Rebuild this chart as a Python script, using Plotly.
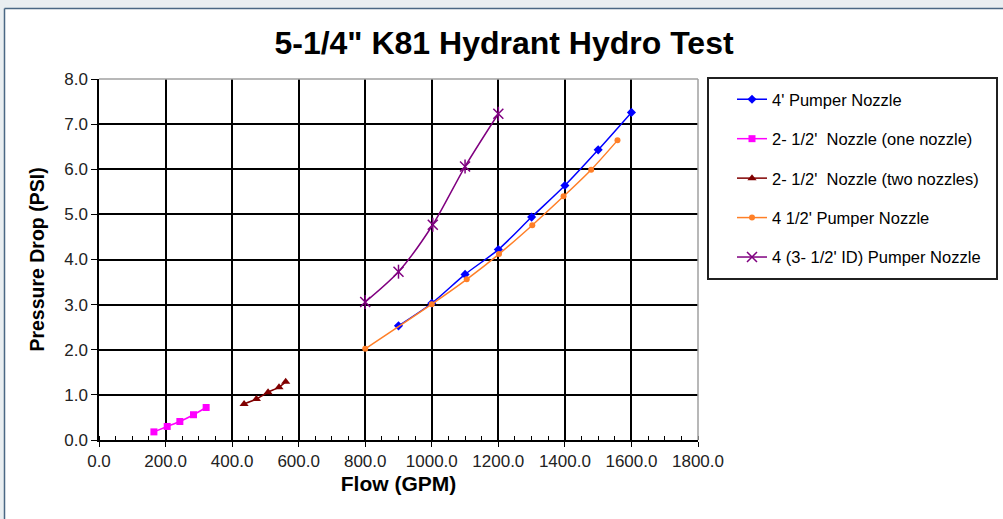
import plotly.graph_objects as go

# ---- data ----
pumper4_x = [900, 1000, 1100, 1200, 1300, 1400, 1500, 1600]
pumper4_y = [2.53, 3.03, 3.67, 4.22, 4.94, 5.64, 6.43, 7.26]

one_nozzle_x = [165, 205, 243, 284, 322]
one_nozzle_y = [0.18, 0.30, 0.41, 0.56, 0.72]

two_nozzle_x = [436, 473, 508, 541, 561]
two_nozzle_y = [0.80, 0.91, 1.06, 1.17, 1.29]

pumper45_x = [800, 1000, 1105, 1202, 1302, 1396, 1479, 1558]
pumper45_y = [2.02, 3.01, 3.56, 4.12, 4.76, 5.40, 5.99, 6.64]

pumper4id_x = [800, 900, 1003, 1100, 1200]
pumper4id_y = [3.06, 3.73, 4.77, 6.06, 7.23]

x_ticks = [0, 200, 400, 600, 800, 1000, 1200, 1400, 1600, 1800]
y_ticks = [0, 1, 2, 3, 4, 5, 6, 7, 8]

# ---- layout geometry (pixels) ----
W, H = 1003, 519
L, R, T, B = 99, 698, 79, 440
pw, ph = R - L, B - T

def px(x):
    return (x - L) / pw

def py(y):
    return (B - y) / ph

FONT = "Liberation Sans, Arial, sans-serif"

fig = go.Figure()

series = [
    ("4' Pumper Nozzle", pumper4_x, pumper4_y, "#0000ff", "diamond", 7),
    ("2- 1/2'  Nozzle (one nozzle)", one_nozzle_x, one_nozzle_y, "#ff00ff", "square", 7),
    ("2- 1/2'  Nozzle (two nozzles)", two_nozzle_x, two_nozzle_y, "#800000", "triangle-up", 8),
    ("4 1/2' Pumper Nozzle", pumper45_x, pumper45_y, "#ff7f27", "circle", 6),
    ("4 (3- 1/2' ID) Pumper Nozzle", pumper4id_x, pumper4id_y, "#800080", "x-thin-open", 10),
]

for i, (name, xs, ys, col, sym, sz) in enumerate(series):
    fig.add_trace(go.Scatter(
        x=xs, y=ys, name=name, mode="lines+markers",
        line=dict(color=col, width=1.5, shape="spline", smoothing=0.8),
        marker=dict(symbol=sym, size=sz, color=col,
                    line=dict(color=col, width=1.5 if "open" in sym else 0)),
        legendgroup="g%d" % i,
    ))

# vertical stroke of Excel star marker for the last series
fig.add_trace(go.Scatter(
    x=pumper4id_x, y=pumper4id_y, mode="markers", showlegend=False,
    marker=dict(symbol="line-ns-open", size=10, color="#800080",
                line=dict(color="#800080", width=1.5)),
    hoverinfo="skip",
))

shapes = [
    # window frame strips
    dict(type="rect", xref="paper", yref="paper", x0=px(0), x1=px(W), y0=py(0), y1=py(8),
         fillcolor="#e9eef1", line=dict(width=0), layer="below"),
    dict(type="rect", xref="paper", yref="paper", x0=px(0), x1=px(4), y0=py(0), y1=py(H),
         fillcolor="#e9eef1", line=dict(width=0), layer="below"),
    dict(type="line", xref="paper", yref="paper", x0=px(4.5), x1=px(W), y0=py(8.5), y1=py(8.5),
         line=dict(color="#4a6784", width=1.5)),
    dict(type="line", xref="paper", yref="paper", x0=px(4.5), x1=px(4.5), y0=py(8.5), y1=py(H),
         line=dict(color="#4a6784", width=1.5)),
    # gray top and right plot border
    dict(type="line", xref="paper", yref="paper", x0=0, x1=1, y0=1, y1=1,
         line=dict(color="#a0a0a0", width=1.5)),
    dict(type="line", xref="paper", yref="paper", x0=1, x1=1, y0=0, y1=1,
         line=dict(color="#a0a0a0", width=1.5)),
    # legend box
    dict(type="rect", xref="paper", yref="paper", x0=px(708), x1=px(997), y0=py(78), y1=py(279),
         line=dict(color="#202020", width=2), fillcolor="rgba(0,0,0,0)"),
]

fig.update_layout(
    width=W, height=H,
    margin=dict(l=L, r=W - R, t=T, b=H - B, autoexpand=False),
    paper_bgcolor="white", plot_bgcolor="white",
    font=dict(family=FONT, color="#1a1a1a", size=12),
    title=dict(text="<b>5-1/4\" K81 Hydrant Hydro Test</b>", x=px(504), xref="paper", xanchor="center",
               y=1 - 43 / H, yanchor="middle", font=dict(size=32, family=FONT, color="#000")),
    showlegend=True,
    legend=dict(x=px(732), y=py(82), xanchor="left", yanchor="top",
                bgcolor="rgba(0,0,0,0)", borderwidth=0,
                font=dict(size=16.5, family=FONT, color="#000"),
                tracegroupgap=15, itemwidth=30),
    shapes=shapes,
    xaxis=dict(range=[0, 1800], tickvals=x_ticks, ticktext=["%.1f" % v for v in x_ticks],
               showgrid=True, gridcolor="#000", gridwidth=1.5,
               showline=True, linecolor="#000", linewidth=1.5,
               ticks="outside", ticklen=5, tickcolor="#000",
               minor=dict(dtick=50, ticks="inside", ticklen=4, tickcolor="#000", showgrid=False),
               zeroline=False, tickfont=dict(size=17, color="#222"),
               title=dict(text="<b>Flow (GPM)</b>", font=dict(size=21, color="#000"), standoff=6)),
    yaxis=dict(range=[0, 8], tickvals=y_ticks, ticktext=["%.1f" % v for v in y_ticks],
               showgrid=True, gridcolor="#000", gridwidth=1.5,
               showline=True, linecolor="#000", linewidth=1.5,
               ticks="outside", ticklen=6, tickcolor="#000",
               zeroline=False, tickfont=dict(size=17, color="#222"),
               title=dict(text="<b>Pressure Drop (PSI)</b>", font=dict(size=19.5, color="#000"), standoff=14)),
)

fig.write_html("out.html", config={"displayModeBar": False},
               post_script="document.body.style.margin='0';")
